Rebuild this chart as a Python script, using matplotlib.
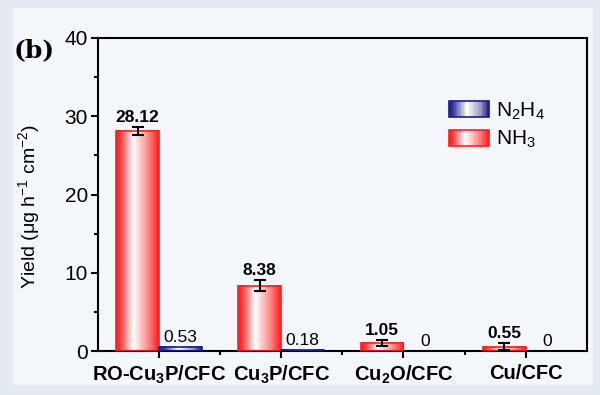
import numpy as np
import matplotlib
matplotlib.use('Agg')
import matplotlib.pyplot as plt
from matplotlib.patches import Rectangle
from matplotlib.colors import LinearSegmentedColormap
from matplotlib.legend_handler import HandlerPatch
from matplotlib.ticker import MultipleLocator, FixedLocator

plt.rcParams['font.family'] = ['Liberation Sans', 'DejaVu Sans']
plt.rcParams['mathtext.fontset'] = 'custom'
plt.rcParams['mathtext.rm'] = 'Liberation Sans'
plt.rcParams['mathtext.bf'] = 'Liberation Sans:bold'
plt.rcParams['mathtext.it'] = 'Liberation Sans:italic'

# data
catalysts = [r'RO-Cu$_\mathbf{3}$P/CFC', r'Cu$_\mathbf{3}$P/CFC', r'Cu$_\mathbf{2}$O/CFC', r'Cu/CFC']
nh3 = [28.12, 8.38, 1.05, 0.55]
nh3_err = [0.5, 0.65, 0.4, 0.45]
n2h4 = [0.53, 0.18, 0.0, 0.0]

red = '#ff1f1f'
blue = '#1c1c8c'
red_cmap = LinearSegmentedColormap.from_list('r', [(0, red), (0.08, '#ff3535'), (0.4, '#ffffff'), (0.75, '#ff8a8a'), (1, red)])
blue_cmap = LinearSegmentedColormap.from_list('b', [(0, blue), (0.1, '#35359c'), (0.45, '#ffffff'), (0.8, '#9a9ac8'), (1, blue)])
grad = np.linspace(0, 1, 64).reshape(1, -1)


def gradient_bar(ax, x0, w, h, cmap, edge):
    if h <= 0:
        return
    ax.imshow(grad, cmap=cmap, aspect='auto', extent=(x0, x0 + w, 0, h), zorder=2, interpolation='bilinear')
    ax.add_patch(Rectangle((x0, 0), w, h, fill=False, edgecolor=edge, lw=1.2, zorder=3))


class GradHandler(HandlerPatch):
    def __init__(self, cmap, edge):
        super().__init__()
        self.cmap = cmap
        self.edge = edge

    def create_artists(self, legend, orig_handle, xdescent, ydescent, width, height, fontsize, trans):
        n = 30
        arts = []
        for i in range(n):
            r = Rectangle((-xdescent + width * i / n, -ydescent), width / n + 0.3, height,
                          facecolor=self.cmap((i + 0.5) / n), edgecolor='none', transform=trans)
            arts.append(r)
        arts.append(Rectangle((-xdescent, -ydescent), width, height, fill=False,
                              edgecolor=self.edge, lw=1.2, transform=trans))
        return arts


fig = plt.figure(figsize=(6, 3.95), dpi=100)
fig.patch.set_facecolor('#e4eaf1')
fig.patches.append(Rectangle((13 / 600, 10 / 395), 580 / 600, 377 / 395, transform=fig.transFigure,
                             facecolor='#f3f6fa', edgecolor='none', zorder=-5))
ax = fig.add_axes([0.163, 0.111, 0.815, 0.793])
ax.set_facecolor('#f3f6fa')

x = np.arange(1, len(catalysts) + 1)
w = 0.35
for i in range(len(x)):
    gradient_bar(ax, x[i] - w, w, nh3[i], red_cmap, red)
    gradient_bar(ax, x[i], w, n2h4[i], blue_cmap, blue)
ax.errorbar(x - w / 2, nh3, yerr=nh3_err, fmt='none', ecolor='black', elinewidth=1.5, capsize=4, capthick=1.5, zorder=4)

for i in range(len(x)):
    ax.annotate(f'{nh3[i]:.2f}', (x[i] - w / 2, nh3[i] + nh3_err[i]), xytext=(0, 1.5), textcoords='offset points',
                ha='center', va='bottom', fontsize=12.5, fontweight='bold')
    lab = f'{n2h4[i]:.2f}' if n2h4[i] > 0 else '0'
    ax.annotate(lab, (x[i] + w / 2, n2h4[i]), xytext=(0, 1.5), textcoords='offset points',
                ha='center', va='bottom', fontsize=12.5)

ax.set_xlim(0.5, 4.5)
ax.set_ylim(0, 40)
ax.yaxis.set_major_locator(MultipleLocator(10))
ax.yaxis.set_minor_locator(MultipleLocator(5))
ax.set_xticks(x)
ax.set_xticklabels(catalysts, fontsize=14.5, fontweight='bold')
ax.xaxis.set_minor_locator(FixedLocator(x[:-1] + 0.5))
ax.tick_params(axis='y', which='major', direction='out', length=5, width=1.5, labelsize=15, pad=2)
ax.tick_params(axis='y', which='minor', direction='out', length=3, width=1.5)
ax.tick_params(axis='x', which='major', direction='out', length=5, width=1.5, pad=4)
ax.tick_params(axis='x', which='minor', direction='out', length=3, width=1.5)
for s in ax.spines.values():
    s.set_linewidth(1.5)
ax.set_ylabel(r'Yield ($\mathrm{\mu}$g h$^{-1}$ cm$^{-2}$)', fontsize=14, labelpad=12)
ax.yaxis.set_label_coords(-0.115, 0.46)

h1 = Rectangle((0, 0), 1, 1)
h2 = Rectangle((0, 0), 1, 1)
ax.legend([h1, h2], [r'N$_2$H$_4$', r'NH$_3$'], loc='upper left', bbox_to_anchor=(0.68, 0.86), frameon=False,
          fontsize=15, handlelength=1.9, handleheight=0.8, handletextpad=0.35, labelspacing=0.35,
          handler_map={h1: GradHandler(blue_cmap, blue), h2: GradHandler(red_cmap, red)})

fig.text(0.022, 0.873, '(b)', fontsize=18, fontweight='bold', family='DejaVu Serif', va='center')

fig.savefig('out.png', dpi=100, facecolor=fig.get_facecolor())
